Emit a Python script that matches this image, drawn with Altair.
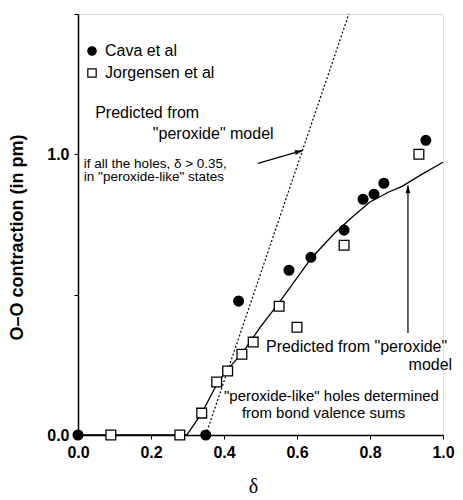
import altair as alt
import pandas as pd

# --- data ---
cava_x = [0.0, 0.35, 0.44, 0.578, 0.638, 0.729, 0.781, 0.811, 0.838, 0.953]
cava_y = [0.0, 0.0, 0.477, 0.587, 0.633, 0.73, 0.84, 0.858, 0.897, 1.05]

jorg_x = [0.09, 0.279, 0.339, 0.38, 0.41, 0.449, 0.48, 0.551, 0.6, 0.729, 0.934]
jorg_y = [0.0, 0.0, 0.078, 0.189, 0.228, 0.288, 0.331, 0.459, 0.384, 0.676, 1.0]

curve_x = [0.0, 0.298, 0.339, 0.38, 0.41, 0.449, 0.5, 0.55, 0.6, 0.638, 0.7, 0.75, 0.8, 0.85, 0.888, 0.937, 1.0]
curve_y = [0.0, 0.0, 0.078, 0.18, 0.235, 0.29, 0.385, 0.47, 0.56, 0.628, 0.715, 0.775, 0.83, 0.865, 0.886, 0.925, 0.972]

dotted_x = [0.35, 0.742]
dotted_y = [0.0, 1.5]

series_names = ["Cava et al", "Jorgensen et al"]

x_ticks = [0.0, 0.1, 0.2, 0.3, 0.4, 0.5, 0.6, 0.7, 0.8, 0.9, 1.0]
y_ticks = [0.0, 0.5, 1.0, 1.5]

notes_text = ["Predicted from", "\"peroxide\" model", "Predicted from \"peroxide\"",
              "\"peroxide-like\" holes determined", "from bond valence sums"]
notes_x = [0.047, 0.205, 0.515, 0.40, 0.449]
notes_y = [1.149, 1.071, 0.313, 0.139, 0.078]
notes_size = [16, 16, 16, 15, 15]

small_text = ["if all the holes, \u03b4 > 0.35,", "in \"peroxide-like\" states"]
small_x = [0.016, 0.016]
small_y = [0.967, 0.918]

right_text = ["model"]
right_x = [1.025]
right_y = [0.249]

arrow_id = ["a", "a", "b", "b"]
arrow_x = [0.493, 0.616, 0.904, 0.904]
arrow_y = [0.968, 1.014, 0.363, 0.89]
head_x = [0.616, 0.904]
head_y = [1.014, 0.89]
head_angle = [74, 0]

FONT = "Liberation Sans"

xs = alt.Scale(domain=[0, 1], nice=False, zero=False)
ys = alt.Scale(domain=[0, 1.5], nice=False, zero=False)

pts = pd.DataFrame({
    "x": cava_x + jorg_x,
    "y": cava_y + jorg_y,
    "series": [series_names[0]] * len(cava_x) + [series_names[1]] * len(jorg_x),
})
curve = pd.DataFrame({"x": curve_x, "y": curve_y})
dotted = pd.DataFrame({"x": dotted_x, "y": dotted_y})
notes = pd.DataFrame({"t": notes_text, "x": notes_x, "y": notes_y, "fs": notes_size})
small = pd.DataFrame({"t": small_text, "x": small_x, "y": small_y})
right = pd.DataFrame({"t": right_text, "x": right_x, "y": right_y})
arrows = pd.DataFrame({"id": arrow_id, "x": arrow_x, "y": arrow_y})
heads = pd.DataFrame({"x": head_x, "y": head_y, "a": head_angle})

X = alt.X("x:Q", scale=xs, title="\u03b4",
          axis=alt.Axis(values=x_ticks, grid=False, labelFlush=False,
                        labelExpr="round(datum.value*10) % 2 == 0 ? format(datum.value, '.1f') : ''",
                        tickSize=4, labelPadding=5, labelFontSize=16, labelFontWeight="bold",
                        labelFont=FONT, labelColor="black", domainColor="black", tickColor="black",
                        domainWidth=1.5, titleFont="Liberation Serif", titleFontSize=20,
                        titleFontWeight="normal", titlePadding=16, titleColor="black",
                        titleX=175))
Y = alt.Y("y:Q", scale=ys, title="O\u2013O contraction (in pm)",
          axis=alt.Axis(values=y_ticks, grid=False, labelFlush=False,
                        labelExpr="datum.value == 0 || datum.value == 1 ? format(datum.value, '.1f') : ''",
                        tickSize=4, labelPadding=5, labelFontSize=16, labelFontWeight="bold",
                        labelFont=FONT, labelColor="black", domainColor="black", tickColor="black",
                        domainWidth=1.5, titleFont=FONT, titleFontSize=18, titleFontWeight="bold",
                        titlePadding=20, titleColor="black", titleY=223))

legend_cfg = dict(title=None, orient="none", legendX=6, legendY=29,
                  labelFontSize=16, labelFont=FONT, labelColor="black",
                  symbolSize=70, symbolStrokeWidth=1.2,
                  rowPadding=6, labelOffset=5, padding=0)

curve_l = alt.Chart(curve).mark_line(color="black", strokeWidth=1.3).encode(x=X, y=Y)
dotted_l = alt.Chart(dotted).mark_line(color="black", strokeWidth=1.2, strokeDash=[2, 2]).encode(x="x:Q", y="y:Q")

points = alt.Chart(pts).mark_point(filled=True, size=95, strokeWidth=1.3, opacity=1).encode(
    x="x:Q", y="y:Q",
    shape=alt.Shape("series:N", scale=alt.Scale(domain=series_names, range=["circle", "square"]),
                    legend=alt.Legend(**legend_cfg)),
    fill=alt.Fill("series:N", scale=alt.Scale(domain=series_names, range=["black", "white"]),
                  legend=alt.Legend(**legend_cfg)),
    stroke=alt.Stroke("series:N", scale=alt.Scale(domain=series_names, range=["black", "black"]),
                      legend=alt.Legend(**legend_cfg)),
)

notes_t = alt.Chart(notes).mark_text(align="left", baseline="middle", font=FONT, color="black").encode(
    x="x:Q", y="y:Q", text="t:N", size=alt.Size("fs:Q", scale=None))
small_t = alt.Chart(small).mark_text(align="left", baseline="middle", font=FONT, fontSize=13.5, color="black").encode(
    x="x:Q", y="y:Q", text="t:N")
right_t = alt.Chart(right).mark_text(align="right", baseline="middle", font=FONT, fontSize=16, color="black").encode(
    x="x:Q", y="y:Q", text="t:N")

arrow_l = alt.Chart(arrows).mark_line(color="black", strokeWidth=1.2).encode(x="x:Q", y="y:Q", detail="id:N")
arrow_h = alt.Chart(heads).mark_point(shape="M0,0L0.6,2L-0.6,2Z", filled=True, color="black", size=64, opacity=1).encode(
    x="x:Q", y="y:Q", angle=alt.Angle("a:Q", scale=None))

chart = alt.layer(curve_l, dotted_l, arrow_l, arrow_h, points, notes_t, small_t, right_t).properties(
    width=365, height=421,
    padding={"left": 78, "top": 14, "right": 20, "bottom": 65},
    autosize=alt.AutoSizeParams(type="none"),
).configure_view(stroke="black", strokeWidth=1.5).configure(background="white")

chart.save("out.html", embed_options={"renderer": "svg", "actions": False})
